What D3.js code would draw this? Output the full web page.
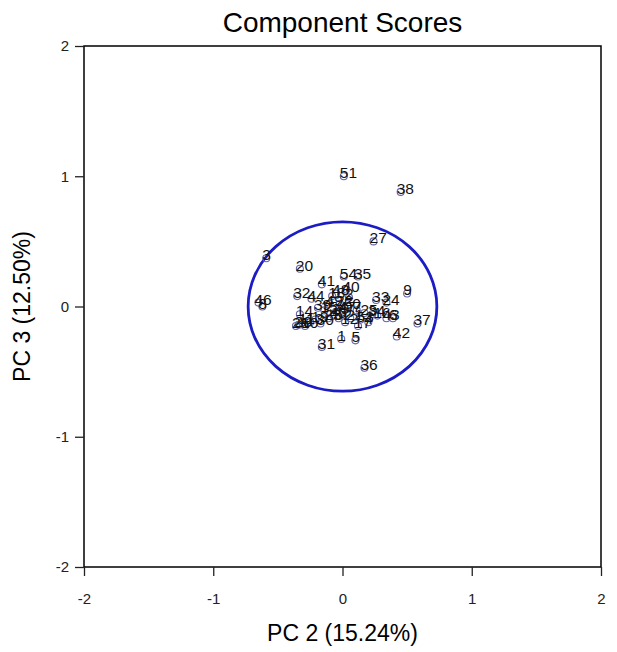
<!DOCTYPE html>
<html>
<meta charset="utf-8">
<style>
body { margin: 0; background: #fff; }
text { font-family: Arial, "Liberation Sans", sans-serif; }
</style>
<script src="https://d3js.org/d3.v7.min.js"></script>
<body>
<div id="my_dataviz"></div>
<script>
// point labels (sample numbers)
var labels = [1,2,3,4,5,6,7,8,9,10,11,12,13,14,15,16,17,18,19,20,21,22,23,24,25,26,27,
  28,29,30,31,32,33,34,35,36,37,38,39,40,41,42,43,44,45,46,47,48,49,50,51,52,53,54];
// PC 2 scores
var pc2 = [-0.01,0.05,-0.59,0.20,0.10,0.39,0.11,-0.62,0.50,-0.29,-0.31,0.02,-0.25,-0.33,-0.14,0.27,0.12,-0.08,
  -0.21,-0.33,0.06,-0.02,-0.11,0.34,0.17,-0.36,0.24,-0.34,-0.05,-0.17,-0.16,-0.35,0.26,0.23,0.12,0.17,
  0.58,0.45,-0.19,0.03,-0.16,0.42,0.34,-0.24,-0.07,-0.65,0.00,-0.05,-0.10,0.04,0.01,-0.03,0.14,0.01];
// PC 3 scores
var pc3 = [-0.25,0.07,0.37,-0.12,-0.26,-0.09,-0.03,0.00,0.10,-0.15,-0.12,-0.12,-0.12,-0.06,-0.03,-0.07,-0.15,0.08,
  -0.10,0.29,-0.09,0.02,-0.09,0.03,-0.05,-0.15,0.50,-0.14,-0.04,-0.13,-0.31,0.08,0.05,-0.06,0.23,-0.47,
  -0.13,0.88,-0.01,0.13,0.17,-0.23,-0.09,0.06,-0.07,0.03,-0.03,0.10,0.02,0.00,1.00,-0.09,-0.10,0.23];
var ticks = [-2, -1, 0, 1, 2];
// confidence ellipse radii (data units)
var ellipseR = [0.73, 0.65];

var W = 617, H = 652;
var margin = {top: 46, right: 16, bottom: 85, left: 84},
    width = W - margin.left - margin.right,
    height = H - margin.top - margin.bottom;

var svgRoot = d3.select("#my_dataviz").append("svg")
    .attr("width", W).attr("height", H);
var svg = svgRoot.append("g")
    .attr("transform", "translate(" + margin.left + "," + margin.top + ")");

var x = d3.scaleLinear().domain([-2, 2]).range([0, width]);
var y = d3.scaleLinear().domain([-2, 2]).range([height, 0]);

// frame
svg.append("rect")
  .attr("width", width).attr("height", height)
  .attr("fill", "none").attr("stroke", "#000").attr("stroke-width", 1.5);

var fmt = function(d) { return String(d); }; // plain hyphen minus like the original
var xa = svg.append("g")
  .attr("transform", "translate(0," + height + ")")
  .call(d3.axisBottom(x).tickValues(ticks).tickFormat(fmt).tickSize(9).tickPadding(17));
var ya = svg.append("g")
  .call(d3.axisLeft(y).tickValues(ticks).tickFormat(fmt).tickSize(9).tickPadding(6));
[xa, ya].forEach(function(a) {
  a.select(".domain").remove();
  a.selectAll("line").attr("stroke", "#222").attr("stroke-width", 1.3);
  a.selectAll("text").attr("font-size", 15).attr("fill", "#222")
    .style("font-family", "Arial, 'Liberation Sans', sans-serif");
});

// ellipse
svg.append("ellipse")
  .attr("cx", x(0)).attr("cy", y(0))
  .attr("rx", x(ellipseR[0]) - x(0)).attr("ry", y(0) - y(ellipseR[1]))
  .attr("fill", "none").attr("stroke", "#1c1cc4").attr("stroke-width", 2.8);

var pts = labels.map(function(l, i) { return {label: l, x: pc2[i], y: pc3[i]}; });

svg.selectAll("circle.pt").data(pts).enter().append("circle")
  .attr("class", "pt")
  .attr("cx", function(d) { return x(d.x); })
  .attr("cy", function(d) { return y(d.y); })
  .attr("r", 3.5)
  .attr("fill", "none").attr("stroke", "#6464a8").attr("stroke-width", 1.1);

svg.selectAll("text.lbl").data(pts).enter().append("text")
  .attr("class", "lbl")
  .attr("x", function(d) { return x(d.x) - 4; })
  .attr("y", function(d) { return y(d.y) + 2; })
  .attr("font-size", 15.5).attr("fill", "#111")
  .text(function(d) { return d.label; });

// titles
svgRoot.append("text")
  .attr("x", margin.left + width / 2).attr("y", 32)
  .attr("text-anchor", "middle").attr("font-size", 28)
  .text("Component Scores");
svgRoot.append("text")
  .attr("x", margin.left + width / 2).attr("y", 641)
  .attr("text-anchor", "middle").attr("font-size", 23)
  .text("PC 2 (15.24%)");
svgRoot.append("text")
  .attr("transform", "translate(30," + (margin.top + height / 2) + ") rotate(-90)")
  .attr("text-anchor", "middle").attr("font-size", 23)
  .text("PC 3 (12.50%)");
</script>
</body>
</html>
